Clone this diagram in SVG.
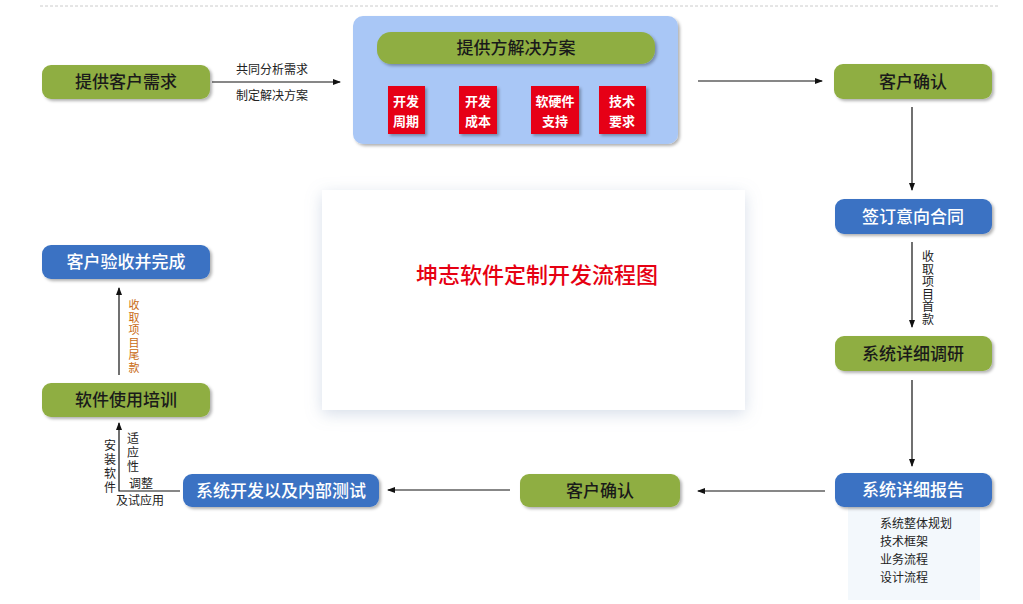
<svg xmlns="http://www.w3.org/2000/svg" width="1023" height="604" viewBox="0 0 1023 604">
<defs>
<marker id="ah" markerWidth="8" markerHeight="8" refX="7" refY="4" orient="auto" markerUnits="userSpaceOnUse"><path d="M0,1 L8,4 L0,7 Z" fill="#111"/></marker>
<filter id="sh" x="-10%" y="-20%" width="130%" height="160%"><feDropShadow dx="2" dy="2" stdDeviation="1.5" flood-color="#000" flood-opacity="0.3"/></filter>
<filter id="bsh" x="-10%" y="-10%" width="120%" height="120%"><feDropShadow dx="0" dy="4" stdDeviation="8" flood-color="#8aa0c0" flood-opacity="0.35"/></filter>
</defs>
<style>
text{font-family:"Noto Sans CJK SC","Liberation Sans",sans-serif}
.g{fill:#8fae42;filter:url(#sh)}
.b{fill:#3b72c3;filter:url(#sh)}
.r{fill:#e60012;filter:url(#sh)}
.tk{fill:#1a1a1a;font-size:17px;text-anchor:middle;font-weight:500}
.tw{fill:#fff;font-size:17px;text-anchor:middle;font-weight:500}
.tr{fill:#fff;font-size:13px;text-anchor:middle;font-weight:bold}
.s{fill:#222;font-size:12px}
.ln{stroke:#111;stroke-width:1.2;fill:none}
</style>
<rect width="1023" height="604" fill="#fff"/>
<line x1="40" y1="6" x2="1000" y2="6" stroke="#ccc" stroke-dasharray="3,2"/>
<rect x="322" y="190" width="423" height="220" fill="#fff" filter="url(#bsh)"/>
<text x="537" y="283" font-size="22" fill="#e60012" text-anchor="middle" font-weight="500">坤志软件定制开发流程图</text>
<rect x="848" y="507" width="132" height="93" fill="#f3f8fc"/>
<g id="connectors">
<line class="ln" x1="212" y1="82" x2="340" y2="82" marker-end="url(#ah)"/>
<line class="ln" x1="698" y1="81" x2="822" y2="81" marker-end="url(#ah)"/>
<line class="ln" x1="912" y1="107" x2="912" y2="190" marker-end="url(#ah)"/>
<line class="ln" x1="912" y1="242" x2="912" y2="327" marker-end="url(#ah)"/>
<line class="ln" x1="912" y1="380" x2="912" y2="466" marker-end="url(#ah)"/>
<line class="ln" x1="825" y1="491" x2="698" y2="491" marker-end="url(#ah)"/>
<line class="ln" x1="510" y1="490" x2="388" y2="490" marker-end="url(#ah)"/>
<polyline class="ln" points="180,491 119,491 119,423" marker-end="url(#ah)"/>
<line class="ln" x1="119" y1="375" x2="119" y2="288" marker-end="url(#ah)"/>
<text class="s" x="272" y="74" text-anchor="middle">共同分析需求</text>
<text class="s" x="272" y="100" text-anchor="middle">制定解决方案</text>
<text class="s" x="928" y="261" text-anchor="middle" font-size="11"><tspan x="928">收</tspan><tspan x="928" dy="12.5">取</tspan><tspan x="928" dy="12.5">项</tspan><tspan x="928" dy="12.5">目</tspan><tspan x="928" dy="12.5">首</tspan><tspan x="928" dy="12.5">款</tspan></text>
<text x="134" y="309" text-anchor="middle" font-size="11" fill="#c96a10"><tspan x="134">收</tspan><tspan x="134" dy="12.5">取</tspan><tspan x="134" dy="12.5">项</tspan><tspan x="134" dy="12.5">目</tspan><tspan x="134" dy="12.5">尾</tspan><tspan x="134" dy="12.5">款</tspan></text>
<text class="s" x="110" y="450" text-anchor="middle" font-size="13"><tspan x="110">安</tspan><tspan x="110" dy="14">装</tspan><tspan x="110" dy="14">软</tspan><tspan x="110" dy="14">件</tspan></text>
<text class="s" x="133" y="443" text-anchor="middle" font-size="13"><tspan x="133">适</tspan><tspan x="133" dy="14">应</tspan><tspan x="133" dy="14">性</tspan></text>
<text class="s" x="141" y="488" text-anchor="middle" font-size="13">调整</text>
<text class="s" x="140" y="505" text-anchor="middle" font-size="13">及试应用</text>
<text class="s" x="880" y="528" font-size="13"><tspan x="880">系统整体规划</tspan><tspan x="880" dy="18">技术框架</tspan><tspan x="880" dy="18">业务流程</tspan><tspan x="880" dy="18">设计流程</tspan></text>
</g>
<g id="n1"><rect class="g" x="42" y="65" width="168" height="34" rx="9"/><text class="tk" x="126" y="88">提供客户需求</text></g>
<g id="panel"><rect x="353" y="16" width="325" height="128" rx="10" fill="#a9c7f6" filter="url(#sh)"/></g>
<g id="n2"><rect class="g" x="377" y="32" width="278" height="32" rx="14"/><text class="tk" x="516" y="54">提供方解决方案</text></g>
<g id="r1"><rect class="r" x="388" y="86" width="37" height="48"/><text class="tr" x="406" y="106">开发</text><text class="tr" x="406" y="126">周期</text></g>
<g id="r2"><rect class="r" x="459" y="86" width="38" height="48"/><text class="tr" x="478" y="106">开发</text><text class="tr" x="478" y="126">成本</text></g>
<g id="r3"><rect class="r" x="531" y="86" width="48" height="48"/><text class="tr" x="555" y="106">软硬件</text><text class="tr" x="555" y="126">支持</text></g>
<g id="r4"><rect class="r" x="599" y="86" width="47" height="48"/><text class="tr" x="622" y="106">技术</text><text class="tr" x="622" y="126">要求</text></g>
<g id="n3"><rect class="g" x="834" y="64" width="158" height="35" rx="9"/><text class="tk" x="913" y="88">客户确认</text></g>
<g id="n4"><rect class="b" x="835" y="199" width="157" height="35" rx="9"/><text class="tw" x="913" y="223">签订意向合同</text></g>
<g id="n5"><rect class="g" x="835" y="336" width="157" height="35" rx="9"/><text class="tk" x="913" y="360">系统详细调研</text></g>
<g id="n6"><rect class="b" x="835" y="473" width="157" height="34" rx="9"/><text class="tw" x="913" y="496">系统详细报告</text></g>
<g id="n7"><rect class="g" x="520" y="474" width="160" height="33" rx="9"/><text class="tk" x="600" y="497">客户确认</text></g>
<g id="n8"><rect class="b" x="183" y="474" width="196" height="33" rx="9"/><text class="tw" x="281" y="497">系统开发以及内部测试</text></g>
<g id="n9"><rect class="g" x="42" y="383" width="168" height="34" rx="9"/><text class="tk" x="126" y="406">软件使用培训</text></g>
<g id="n10"><rect class="b" x="42" y="245" width="168" height="34" rx="9"/><text class="tw" x="126" y="268">客户验收并完成</text></g>
</svg>
